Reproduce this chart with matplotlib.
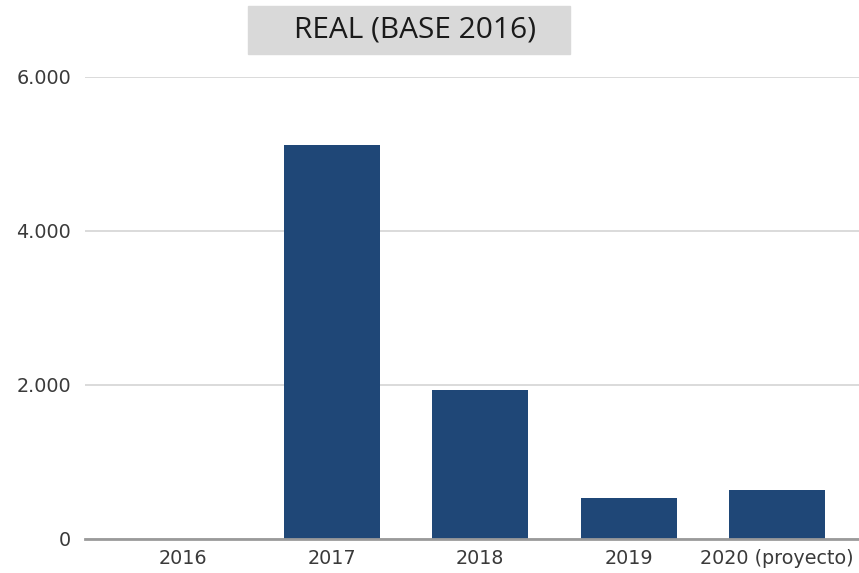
import matplotlib.pyplot as plt
from matplotlib.ticker import FuncFormatter

# yearly values, real terms (base 2016)
years = ["2016", "2017", "2018", "2019", "2020 (proyecto)"]
values = [0, 5120, 1930, 535, 640]
yticks = [0, 2000, 4000, 6000]

BAR_COLOR = "#1f4777"


def thousands(v, pos):
    return f"{int(v):,}".replace(",", ".")


def main():
    fig = plt.figure(figsize=(8.59, 5.73), dpi=100)
    ax = fig.add_axes([85 / 859, 34 / 573, 774 / 859, 462 / 573])

    xs = range(len(years))
    ax.bar(xs, values, width=0.646, color=BAR_COLOR, zorder=3)

    ax.set_xlim(-0.66, 4.55)
    ax.set_ylim(0, 6000)
    ax.set_yticks(yticks)
    ax.yaxis.set_major_formatter(FuncFormatter(thousands))
    ax.set_xticks(list(xs))
    ax.set_xticklabels(years)

    ax.grid(axis="y", color="#d4d4d4", linewidth=1.2, zorder=0)
    for side in ["left", "right", "top"]:
        ax.spines[side].set_visible(False)
    ax.spines["bottom"].set_color("#9a9a9a")
    ax.spines["bottom"].set_linewidth(2)
    ax.spines["bottom"].set_zorder(4)

    ax.tick_params(axis="both", length=0, labelsize=13.8, labelcolor="#3a3a3a")
    ax.tick_params(axis="y", pad=10)
    ax.tick_params(axis="x", pad=7)
    for lbl in ax.get_xticklabels() + ax.get_yticklabels():
        lbl.set_family("DejaVu Sans")

    fig.text(415 / 859, 1 - 30 / 573, "REAL (BASE 2016)", ha="center", va="center",
             fontsize=21.5, family="Open Sans", color="#1a1a1a")
    fig.patches.append(plt.Rectangle((248 / 859, 1 - 54 / 573), 322 / 859, 48 / 573,
                                     transform=fig.transFigure, color="#d9d9d9", zorder=-1))

    fig.savefig("out.png", dpi=100)


if __name__ == "__main__":
    main()
